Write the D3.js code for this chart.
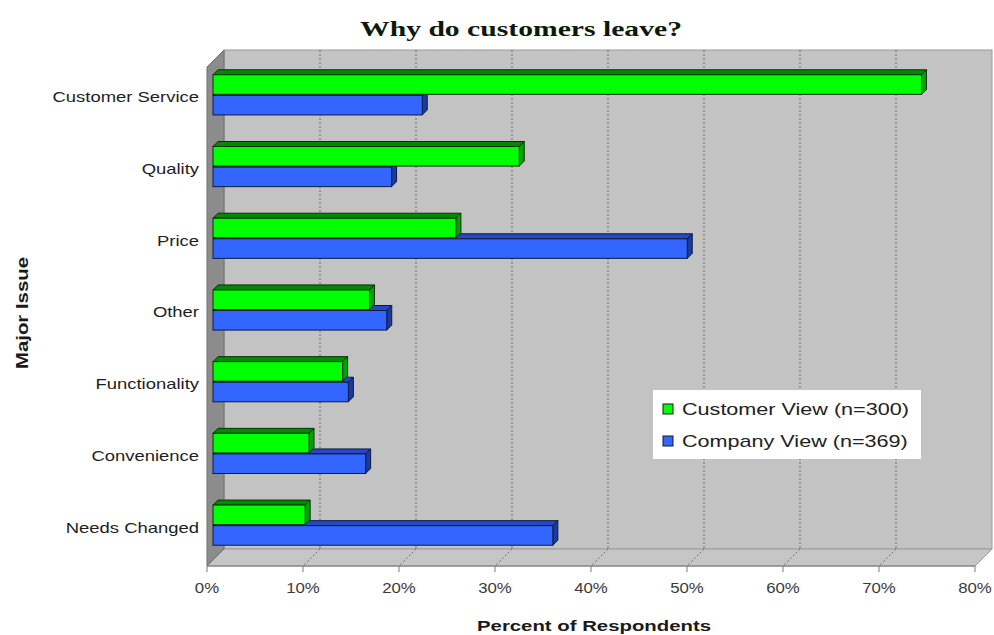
<!DOCTYPE html>
<html><head><meta charset="utf-8">
<script src="https://cdn.jsdelivr.net/npm/d3@7"></script>
<style>html,body{margin:0;padding:0;background:#fff;}svg{display:block;}</style>
</head><body>
<svg id="chart" width="994" height="635"></svg>
<script>
const categories = ["Customer Service","Quality","Price","Other","Functionality","Convenience","Needs Changed"];
const customerView = [73.8, 31.9, 25.3, 16.3, 13.5, 10.0, 9.6];
const companyView  = [21.8, 18.6, 49.4, 18.1, 14.1, 15.9, 35.4];
const seriesNames = ["Customer View (n=300)", "Company View (n=369)"];
const xTicks = [0,10,20,30,40,50,60,70,80];
const titleText = "Why do customers leave?";
const xTitle = "Percent of Respondents";
const yTitle = "Major Issue";

const svg = d3.select("#chart");
const font = "'Liberation Sans', Arial, sans-serif";

// geometry
const frontTop = 67, frontBottom = 566, D = 17;
const xFront = d3.scaleLinear().domain([0,80]).range([207,975]);
const xBack = v => xFront(v) + D;
const xBar = d3.scaleLinear().domain([0,80]).range([213,981]);
const yBand = d3.scaleBand().domain(categories).range([59,561]).paddingInner(0.44).paddingOuter(0.22);
const ySub = d3.scaleBand().domain([0,1]).range([0,yBand.bandwidth()]).paddingInner(0.05);
const colors = [
  {front:"#00ff00", top:"#008a00", side:"#00a300", stroke:"#0b2e0b"},
  {front:"#3366ff", top:"#2748c4", side:"#1c3a9e", stroke:"#0d1a40"}
];
const series = [customerView, companyView];

// back wall
svg.append("rect").attr("x", xBack(0)).attr("y", frontTop - D)
  .attr("width", xBack(80) - xBack(0)).attr("height", frontBottom - frontTop)
  .attr("fill", "#c3c3c3").attr("stroke", "#9a9a9a").attr("stroke-width", 1);
// floor
svg.append("path")
  .attr("d", `M${xFront(0)},${frontBottom} L${xBack(0)},${frontBottom-D} L${xBack(80)},${frontBottom-D} L${xFront(80)},${frontBottom} Z`)
  .attr("fill", "#c6c6c6").attr("stroke", "#9a9a9a").attr("stroke-width", 1);
// left wall
svg.append("path")
  .attr("d", `M${xFront(0)},${frontTop} L${xBack(0)},${frontTop-D} L${xBack(0)},${frontBottom-D} L${xFront(0)},${frontBottom} Z`)
  .attr("fill", "#8c8c8c").attr("stroke", "#6e6e6e").attr("stroke-width", 1);

// gridlines
const gridVals = xTicks.filter(v => v > 0 && v < 80);
svg.append("g").selectAll("line").data(gridVals).join("line")
  .attr("x1", d => xBack(d)).attr("x2", d => xBack(d))
  .attr("y1", frontTop - D).attr("y2", frontBottom - D)
  .attr("stroke", "#6a6a6a").attr("stroke-dasharray", "2,2").attr("stroke-width", 1);
svg.append("g").selectAll("line").data(gridVals).join("line")
  .attr("x1", d => xBack(d)).attr("x2", d => xFront(d))
  .attr("y1", frontBottom - D).attr("y2", frontBottom)
  .attr("stroke", "#6a6a6a").attr("stroke-dasharray", "2,2").attr("stroke-width", 1);

// front axis line + ticks
svg.append("line").attr("x1", xFront(0)).attr("x2", xFront(80))
  .attr("y1", frontBottom).attr("y2", frontBottom).attr("stroke", "#7a7a7a");
svg.append("g").selectAll("line").data(xTicks).join("line")
  .attr("x1", d => xFront(d)).attr("x2", d => xFront(d))
  .attr("y1", frontBottom).attr("y2", frontBottom + 6).attr("stroke", "#7a7a7a");
svg.append("g").selectAll("text").data(xTicks).join("text")
  .attr("transform", d => `translate(${xFront(d)},${588}) scale(1.2,1)`)
  .attr("text-anchor", "middle").attr("dominant-baseline", "central")
  .attr("font-family", font).attr("font-size", 14).attr("fill", "#3a3a3a")
  .text(d => d + "%");

// bars
const d = 5;
const barsG = svg.append("g");
categories.forEach((cat, i) => {
  [1, 0].forEach(s => {
    const v = series[s][i];
    const x0 = xBar(0), x1 = xBar(v);
    const y = yBand(cat) + ySub(s), h = ySub.bandwidth();
    const c = colors[s];
    const g = barsG.append("g");
    g.append("path").attr("d", `M${x0},${y} L${x0+d},${y-d} L${x1+d},${y-d} L${x1},${y} Z`)
      .attr("fill", c.top).attr("stroke", c.stroke).attr("stroke-width", 1).attr("stroke-linejoin", "round");
    g.append("path").attr("d", `M${x1},${y} L${x1+d},${y-d} L${x1+d},${y+h-d} L${x1},${y+h} Z`)
      .attr("fill", c.side).attr("stroke", c.stroke).attr("stroke-width", 1).attr("stroke-linejoin", "round");
    g.append("rect").attr("x", x0).attr("y", y).attr("width", x1 - x0).attr("height", h)
      .attr("fill", c.front).attr("stroke", c.stroke).attr("stroke-width", 1);
  });
});

// category labels
svg.append("g").selectAll("text").data(categories).join("text")
  .attr("transform", c => `translate(199,${yBand(c) + yBand.bandwidth()/2 + 2.5}) scale(1.23,1)`)
  .attr("text-anchor", "end").attr("dominant-baseline", "central")
  .attr("font-family", font).attr("font-size", 15).attr("fill", "#1e1e1e")
  .text(c => c);

// title
svg.append("text").attr("x", 521).attr("y", 36)
  .attr("text-anchor", "middle")
  .attr("font-family", "'Liberation Serif', 'Times New Roman', serif").attr("font-weight", "bold")
  .attr("font-size", 22).attr("fill", "#0c1a0c")
  .attr("textLength", 322).attr("lengthAdjust", "spacingAndGlyphs")
  .text(titleText);

// x axis title
svg.append("text").attr("x", 594).attr("y", 631)
  .attr("text-anchor", "middle")
  .attr("font-family", font).attr("font-weight", "bold")
  .attr("font-size", 15.5).attr("fill", "#1a1a1a")
  .attr("textLength", 234).attr("lengthAdjust", "spacingAndGlyphs")
  .text(xTitle);

// y axis title
svg.append("text").attr("transform", "translate(28,313) rotate(-90)")
  .attr("text-anchor", "middle")
  .attr("font-family", font).attr("font-weight", "bold")
  .attr("font-size", 16).attr("fill", "#1a1a1a")
  .attr("textLength", 112).attr("lengthAdjust", "spacingAndGlyphs")
  .text(yTitle);

// legend
const lg = svg.append("g");
lg.append("rect").attr("x", 653).attr("y", 390).attr("width", 268).attr("height", 69)
  .attr("fill", "#ffffff");
seriesNames.forEach((name, i) => {
  const cy = 409 + i * 32;
  lg.append("rect").attr("x", 663).attr("y", cy - 5).attr("width", 10).attr("height", 10)
    .attr("fill", colors[i].front).attr("stroke", "#1a1a1a").attr("stroke-width", 1);
  lg.append("text").attr("transform", `translate(682,${cy}) scale(1.27,1)`)
    .attr("dominant-baseline", "central")
    .attr("font-family", font).attr("font-size", 17).attr("fill", "#222")
    .text(name);
});
</script>
</body></html>
